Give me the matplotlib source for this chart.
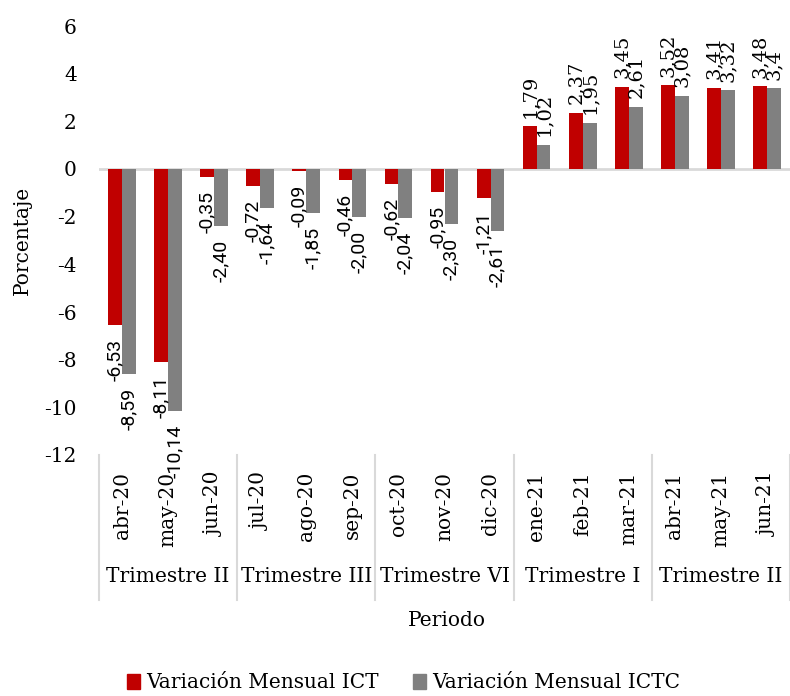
import numpy as np
import matplotlib.pyplot as plt
from matplotlib.lines import Line2D
from matplotlib.patches import Patch

months = ['abr-20', 'may-20', 'jun-20', 'jul-20', 'ago-20', 'sep-20',
          'oct-20', 'nov-20', 'dic-20', 'ene-21', 'feb-21', 'mar-21',
          'abr-21', 'may-21', 'jun-21']
quarters = ['Trimestre II', 'Trimestre III', 'Trimestre VI', 'Trimestre I', 'Trimestre II']
ict = [-6.53, -8.11, -0.35, -0.72, -0.09, -0.46, -0.62, -0.95, -1.21,
       1.79, 2.37, 3.45, 3.52, 3.41, 3.48]
ictc = [-8.59, -10.14, -2.40, -1.64, -1.85, -2.00, -2.04, -2.30, -2.61,
        1.02, 1.95, 2.61, 3.08, 3.32, 3.4]
ict_lbl = ['-6,53', '-8,11', '-0,35', '-0,72', '-0,09', '-0,46', '-0,62', '-0,95', '-1,21',
           '1,79', '2,37', '3,45', '3,52', '3,41', '3,48']
ictc_lbl = ['-8,59', '-10,14', '-2,40', '-1,64', '-1,85', '-2,00', '-2,04', '-2,30', '-2,61',
            '1,02', '1,95', '2,61', '3,08', '3,32', '3,4']

serif = 'DejaVu Serif'
red = '#C00000'
gray = '#808080'

W, H = 790, 696
fig = plt.figure(figsize=(W / 100, H / 100), dpi=100)
ax = fig.add_axes([99 / W, 1 - 455 / H, 1 - 99 / W, (455 - 26) / H])

x = np.arange(len(months))
bw = 0.3
ax.bar(x - bw / 2, ict, bw, color=red, zorder=2)
ax.bar(x + bw / 2, ictc, bw, color=gray, zorder=2)
ax.axhline(0, color='#D9D9D9', lw=2, zorder=1)

# data labels: serif above positive bars, sans below negative ones
for xs, vals, lbls in [(x - bw / 2, ict, ict_lbl), (x + bw / 2, ictc, ictc_lbl)]:
    for xi, v, t in zip(xs, vals, lbls):
        if v >= 0:
            ax.annotate(t, (xi, v), xytext=(0, 6), textcoords='offset points',
                        rotation=90, ha='center', va='bottom',
                        fontsize=14, family=serif, zorder=3)
        else:
            ax.annotate(t, (xi, v), xytext=(0, -10), textcoords='offset points',
                        rotation=90, ha='center', va='top',
                        fontsize=14, family='Roboto', zorder=3)

ax.set_xlim(-0.5, len(months) - 0.5)
ax.set_ylim(-12, 6)
ax.set_yticks(np.arange(-12, 7, 2))
ax.set_yticklabels([str(v) for v in range(-12, 7, 2)], family=serif, fontsize=14.5)
ax.tick_params(axis='y', length=0, pad=16)
ax.set_xticks([])
for s in ax.spines.values():
    s.set_visible(False)

# month labels
for i, m in enumerate(months):
    ax.annotate(m, (i, 0), xycoords=('data', 'axes fraction'), xytext=(0, -12),
                textcoords='offset points', rotation=90, ha='center', va='top',
                family=serif, fontsize=14.5, annotation_clip=False)

# quarter labels and separators
sep_bottom = 1 - 600 / H
ax_bottom = 1 - 455 / H
for q in range(len(quarters)):
    ax.annotate(quarters[q], (3 * q + 1, 0), xycoords=('data', 'axes fraction'),
                xytext=(0, -(576 - 455) / 100 * 72), textcoords='offset points',
                ha='center', va='center', family=serif, fontsize=14.5,
                annotation_clip=False)
for b in range(len(quarters) + 1):
    xb = ax.transData.transform((3 * b - 0.5, 0))[0] / W
    fig.add_artist(Line2D([xb, xb], [sep_bottom, ax_bottom], color='#D9D9D9', lw=1.5))

fig.text(447 / W, 1 - 620 / H, 'Periodo', ha='center', va='center',
         family=serif, fontsize=14.5)
fig.text(22 / W, 1 - 240 / H, 'Porcentaje', ha='center', va='center',
         rotation=90, family=serif, fontsize=14.5)

handles = [Patch(color=red), Patch(color=gray)]
fig.legend(handles, ['Variación Mensual ICT', 'Variación Mensual ICTC'],
           loc='center', bbox_to_anchor=(404 / W, 1 - 683 / H), ncol=2,
           frameon=False, handlelength=0.6, handleheight=0.8, handletextpad=0.35,
           columnspacing=1.7, borderpad=0, prop={'family': serif, 'size': 14.5})

fig.savefig('out.png', dpi=100)
